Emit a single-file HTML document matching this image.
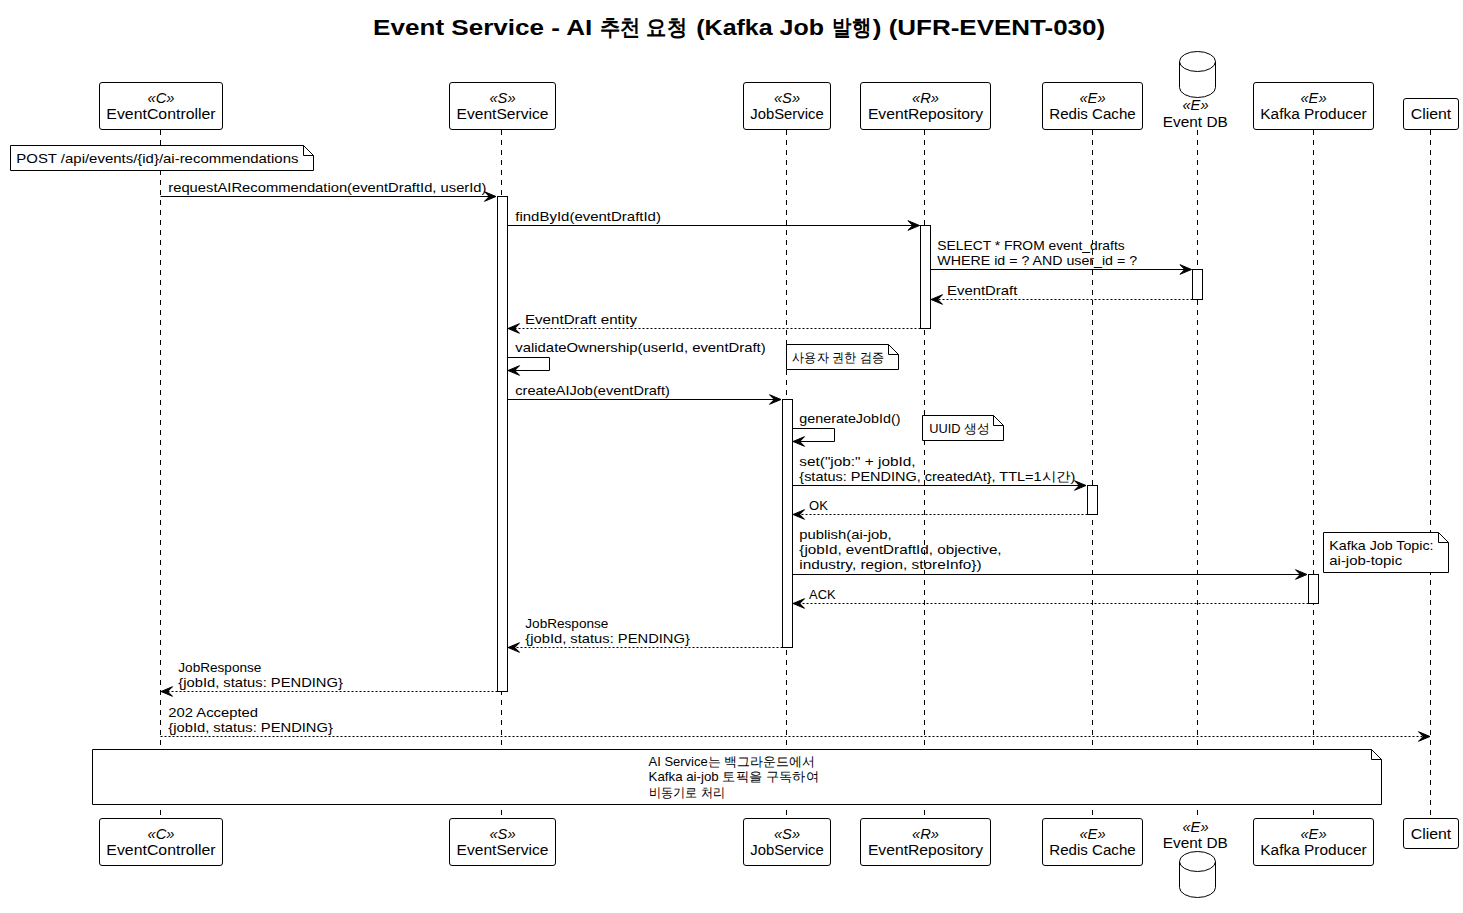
<!DOCTYPE html>
<html><head><meta charset="utf-8"><title>Event Service - AI 추천 요청</title>
<style>
html,body{margin:0;padding:0;background:#fff;}
svg{display:block;}
text{font-family:"Liberation Sans", sans-serif;fill:#000;}
</style></head><body>
<svg width="1463" height="913" viewBox="0 0 1463 913">
<rect x="0" y="0" width="1463" height="913" fill="#fff"/>
<line x1="160.5" y1="130" x2="160.5" y2="818" stroke="#000" stroke-width="1" stroke-dasharray="5,5"/>
<line x1="501.5" y1="130" x2="501.5" y2="818" stroke="#000" stroke-width="1" stroke-dasharray="5,5"/>
<line x1="786.5" y1="130" x2="786.5" y2="818" stroke="#000" stroke-width="1" stroke-dasharray="5,5"/>
<line x1="924.5" y1="130" x2="924.5" y2="818" stroke="#000" stroke-width="1" stroke-dasharray="5,5"/>
<line x1="1092.5" y1="130" x2="1092.5" y2="818" stroke="#000" stroke-width="1" stroke-dasharray="5,5"/>
<line x1="1197.5" y1="130" x2="1197.5" y2="818" stroke="#000" stroke-width="1" stroke-dasharray="5,5"/>
<line x1="1313.5" y1="130" x2="1313.5" y2="818" stroke="#000" stroke-width="1" stroke-dasharray="5,5"/>
<line x1="1430.5" y1="130" x2="1430.5" y2="818" stroke="#000" stroke-width="1" stroke-dasharray="5,5"/>
<rect x="99.5" y="82.5" width="123.0" height="47.0" rx="2.5" ry="2.5" fill="#fff" stroke="#000" stroke-width="1"/>
<rect x="99.5" y="818.5" width="123.0" height="47.0" rx="2.5" ry="2.5" fill="#fff" stroke="#000" stroke-width="1"/>
<rect x="449.5" y="82.5" width="106.0" height="47.0" rx="2.5" ry="2.5" fill="#fff" stroke="#000" stroke-width="1"/>
<rect x="449.5" y="818.5" width="106.0" height="47.0" rx="2.5" ry="2.5" fill="#fff" stroke="#000" stroke-width="1"/>
<rect x="743.5" y="82.5" width="87.0" height="47.0" rx="2.5" ry="2.5" fill="#fff" stroke="#000" stroke-width="1"/>
<rect x="743.5" y="818.5" width="87.0" height="47.0" rx="2.5" ry="2.5" fill="#fff" stroke="#000" stroke-width="1"/>
<rect x="860.5" y="82.5" width="130.0" height="47.0" rx="2.5" ry="2.5" fill="#fff" stroke="#000" stroke-width="1"/>
<rect x="860.5" y="818.5" width="130.0" height="47.0" rx="2.5" ry="2.5" fill="#fff" stroke="#000" stroke-width="1"/>
<rect x="1042.5" y="82.5" width="100.0" height="47.0" rx="2.5" ry="2.5" fill="#fff" stroke="#000" stroke-width="1"/>
<rect x="1042.5" y="818.5" width="100.0" height="47.0" rx="2.5" ry="2.5" fill="#fff" stroke="#000" stroke-width="1"/>
<path d="M1179.5,61.5 A18.0,10 0 0 1 1215.5,61.5 L1215.5,87.5 A18.0,10 0 0 1 1179.5,87.5 Z" fill="#fff" stroke="#000" stroke-width="1"/>
<path d="M1179.5,61.5 A18.0,10 0 0 0 1215.5,61.5" fill="none" stroke="#000" stroke-width="1"/>
<path d="M1179.5,861.5 A18.0,10 0 0 1 1215.5,861.5 L1215.5,887.5 A18.0,10 0 0 1 1179.5,887.5 Z" fill="#fff" stroke="#000" stroke-width="1"/>
<path d="M1179.5,861.5 A18.0,10 0 0 0 1215.5,861.5" fill="none" stroke="#000" stroke-width="1"/>
<rect x="1253.5" y="82.5" width="120.0" height="47.0" rx="2.5" ry="2.5" fill="#fff" stroke="#000" stroke-width="1"/>
<rect x="1253.5" y="818.5" width="120.0" height="47.0" rx="2.5" ry="2.5" fill="#fff" stroke="#000" stroke-width="1"/>
<rect x="1403.5" y="98.5" width="55.0" height="31.0" rx="2.5" ry="2.5" fill="#fff" stroke="#000" stroke-width="1"/>
<rect x="1403.5" y="818.5" width="55.0" height="30.0" rx="2.5" ry="2.5" fill="#fff" stroke="#000" stroke-width="1"/>
<path d="M10.5,145.5 L303.5,145.5 L313.5,155.5 L313.5,170.5 L10.5,170.5 Z" fill="#fff" stroke="#000" stroke-width="1"/>
<path d="M303.5,145.5 L303.5,155.5 L313.5,155.5" fill="none" stroke="#000" stroke-width="1"/>
<line x1="160.5" y1="196.5" x2="496" y2="196.5" stroke="#000" stroke-width="1"/>
<polygon points="496,196.5 484.5,191.7 489.2,196.5 484.5,201.3" fill="#000" stroke="#000" stroke-width="1"/>
<line x1="507.5" y1="225.5" x2="919.5" y2="225.5" stroke="#000" stroke-width="1"/>
<polygon points="919.5,225.5 908.0,220.7 912.7,225.5 908.0,230.3" fill="#000" stroke="#000" stroke-width="1"/>
<line x1="930.5" y1="269.5" x2="1191.5" y2="269.5" stroke="#000" stroke-width="1"/>
<polygon points="1191.5,269.5 1180.0,264.7 1184.7,269.5 1180.0,274.3" fill="#000" stroke="#000" stroke-width="1"/>
<line x1="1192.5" y1="299.5" x2="931" y2="299.5" stroke="#000" stroke-width="1" stroke-dasharray="2,2"/>
<polygon points="931,299.5 942.5,294.7 937.8,299.5 942.5,304.3" fill="#000" stroke="#000" stroke-width="1"/>
<line x1="920.5" y1="328.5" x2="508" y2="328.5" stroke="#000" stroke-width="1" stroke-dasharray="2,2"/>
<polygon points="508,328.5 519.5,323.7 514.8,328.5 519.5,333.3" fill="#000" stroke="#000" stroke-width="1"/>
<path d="M507.5,357.5 L549.5,357.5 L549.5,370.5 L508,370.5" fill="none" stroke="#000" stroke-width="1"/>
<polygon points="508,370.5 519.5,365.7 514.8,370.5 519.5,375.3" fill="#000" stroke="#000" stroke-width="1"/>
<path d="M786.5,344.5 L888.5,344.5 L898.5,354.5 L898.5,369.5 L786.5,369.5 Z" fill="#fff" stroke="#000" stroke-width="1"/>
<path d="M888.5,344.5 L888.5,354.5 L898.5,354.5" fill="none" stroke="#000" stroke-width="1"/>
<line x1="507.5" y1="399.5" x2="781" y2="399.5" stroke="#000" stroke-width="1"/>
<polygon points="781,399.5 769.5,394.7 774.2,399.5 769.5,404.3" fill="#000" stroke="#000" stroke-width="1"/>
<path d="M792.5,428.5 L834.5,428.5 L834.5,441.5 L793,441.5" fill="none" stroke="#000" stroke-width="1"/>
<polygon points="793,441.5 804.5,436.7 799.8,441.5 804.5,446.3" fill="#000" stroke="#000" stroke-width="1"/>
<path d="M922.5,415.5 L993.5,415.5 L1003.5,425.5 L1003.5,440.5 L922.5,440.5 Z" fill="#fff" stroke="#000" stroke-width="1"/>
<path d="M993.5,415.5 L993.5,425.5 L1003.5,425.5" fill="none" stroke="#000" stroke-width="1"/>
<line x1="792.5" y1="485.5" x2="1086" y2="485.5" stroke="#000" stroke-width="1"/>
<polygon points="1086,485.5 1074.5,480.7 1079.2,485.5 1074.5,490.3" fill="#000" stroke="#000" stroke-width="1"/>
<line x1="1087.5" y1="514.5" x2="793" y2="514.5" stroke="#000" stroke-width="1" stroke-dasharray="2,2"/>
<polygon points="793,514.5 804.5,509.7 799.8,514.5 804.5,519.3" fill="#000" stroke="#000" stroke-width="1"/>
<line x1="792.5" y1="574.5" x2="1307" y2="574.5" stroke="#000" stroke-width="1"/>
<polygon points="1307,574.5 1295.5,569.7 1300.2,574.5 1295.5,579.3" fill="#000" stroke="#000" stroke-width="1"/>
<path d="M1323.5,532.5 L1438.5,532.5 L1448.5,542.5 L1448.5,572.5 L1323.5,572.5 Z" fill="#fff" stroke="#000" stroke-width="1"/>
<path d="M1438.5,532.5 L1438.5,542.5 L1448.5,542.5" fill="none" stroke="#000" stroke-width="1"/>
<line x1="1308.5" y1="603.5" x2="793" y2="603.5" stroke="#000" stroke-width="1" stroke-dasharray="2,2"/>
<polygon points="793,603.5 804.5,598.7 799.8,603.5 804.5,608.3" fill="#000" stroke="#000" stroke-width="1"/>
<line x1="782.5" y1="647.5" x2="508" y2="647.5" stroke="#000" stroke-width="1" stroke-dasharray="2,2"/>
<polygon points="508,647.5 519.5,642.7 514.8,647.5 519.5,652.3" fill="#000" stroke="#000" stroke-width="1"/>
<line x1="497.5" y1="691.5" x2="161" y2="691.5" stroke="#000" stroke-width="1" stroke-dasharray="2,2"/>
<polygon points="161,691.5 172.5,686.7 167.8,691.5 172.5,696.3" fill="#000" stroke="#000" stroke-width="1"/>
<line x1="160.5" y1="736.5" x2="1430" y2="736.5" stroke="#000" stroke-width="1" stroke-dasharray="2,2"/>
<polygon points="1430,736.5 1418.5,731.7 1423.2,736.5 1418.5,741.3" fill="#000" stroke="#000" stroke-width="1"/>
<path d="M92.5,749.5 L1371.5,749.5 L1381.5,759.5 L1381.5,804.5 L92.5,804.5 Z" fill="#fff" stroke="#000" stroke-width="1"/>
<path d="M1371.5,749.5 L1371.5,759.5 L1381.5,759.5" fill="none" stroke="#000" stroke-width="1"/>
<rect x="497.5" y="196.5" width="10" height="495.0" fill="#fff" stroke="#000" stroke-width="1"/>
<rect x="920.5" y="225.5" width="10" height="103.0" fill="#fff" stroke="#000" stroke-width="1"/>
<rect x="1192.5" y="269.5" width="10" height="30.0" fill="#fff" stroke="#000" stroke-width="1"/>
<rect x="782.5" y="399.5" width="10" height="248.0" fill="#fff" stroke="#000" stroke-width="1"/>
<rect x="1087.5" y="485.5" width="10" height="29.0" fill="#fff" stroke="#000" stroke-width="1"/>
<rect x="1308.5" y="574.5" width="10" height="29.0" fill="#fff" stroke="#000" stroke-width="1"/>
<text x="161.00" y="102.80" font-size="14" font-style="italic" text-anchor="middle" textLength="27.06" lengthAdjust="spacingAndGlyphs">«C»</text>
<text x="161.00" y="118.80" font-size="14" text-anchor="middle" textLength="109.28" lengthAdjust="spacingAndGlyphs">EventController</text>
<text x="161.00" y="838.80" font-size="14" font-style="italic" text-anchor="middle" textLength="27.06" lengthAdjust="spacingAndGlyphs">«C»</text>
<text x="161.00" y="854.80" font-size="14" text-anchor="middle" textLength="109.28" lengthAdjust="spacingAndGlyphs">EventController</text>
<text x="502.50" y="102.80" font-size="14" font-style="italic" text-anchor="middle" textLength="26.17" lengthAdjust="spacingAndGlyphs">«S»</text>
<text x="502.50" y="118.80" font-size="14" text-anchor="middle" textLength="91.86" lengthAdjust="spacingAndGlyphs">EventService</text>
<text x="502.50" y="838.80" font-size="14" font-style="italic" text-anchor="middle" textLength="26.17" lengthAdjust="spacingAndGlyphs">«S»</text>
<text x="502.50" y="854.80" font-size="14" text-anchor="middle" textLength="91.86" lengthAdjust="spacingAndGlyphs">EventService</text>
<text x="787.00" y="102.80" font-size="14" font-style="italic" text-anchor="middle" textLength="26.17" lengthAdjust="spacingAndGlyphs">«S»</text>
<text x="787.00" y="118.80" font-size="14" text-anchor="middle" textLength="73.33" lengthAdjust="spacingAndGlyphs">JobService</text>
<text x="787.00" y="838.80" font-size="14" font-style="italic" text-anchor="middle" textLength="26.17" lengthAdjust="spacingAndGlyphs">«S»</text>
<text x="787.00" y="854.80" font-size="14" text-anchor="middle" textLength="73.33" lengthAdjust="spacingAndGlyphs">JobService</text>
<text x="925.50" y="102.80" font-size="14" font-style="italic" text-anchor="middle" textLength="27.02" lengthAdjust="spacingAndGlyphs">«R»</text>
<text x="925.50" y="118.80" font-size="14" text-anchor="middle" textLength="115.19" lengthAdjust="spacingAndGlyphs">EventRepository</text>
<text x="925.50" y="838.80" font-size="14" font-style="italic" text-anchor="middle" textLength="27.02" lengthAdjust="spacingAndGlyphs">«R»</text>
<text x="925.50" y="854.80" font-size="14" text-anchor="middle" textLength="115.19" lengthAdjust="spacingAndGlyphs">EventRepository</text>
<text x="1092.50" y="102.80" font-size="14" font-style="italic" text-anchor="middle" textLength="26.14" lengthAdjust="spacingAndGlyphs">«E»</text>
<text x="1092.50" y="118.80" font-size="14" text-anchor="middle" textLength="86.41" lengthAdjust="spacingAndGlyphs">Redis Cache</text>
<text x="1092.50" y="838.80" font-size="14" font-style="italic" text-anchor="middle" textLength="26.14" lengthAdjust="spacingAndGlyphs">«E»</text>
<text x="1092.50" y="854.80" font-size="14" text-anchor="middle" textLength="86.41" lengthAdjust="spacingAndGlyphs">Redis Cache</text>
<text x="1195.50" y="110.40" font-size="14" font-style="italic" text-anchor="middle" textLength="26.14" lengthAdjust="spacingAndGlyphs">«E»</text>
<text x="1195.30" y="126.70" font-size="14" text-anchor="middle" textLength="64.95" lengthAdjust="spacingAndGlyphs">Event DB</text>
<text x="1195.50" y="831.70" font-size="14" font-style="italic" text-anchor="middle" textLength="26.14" lengthAdjust="spacingAndGlyphs">«E»</text>
<text x="1195.30" y="847.50" font-size="14" text-anchor="middle" textLength="64.95" lengthAdjust="spacingAndGlyphs">Event DB</text>
<text x="1313.50" y="102.80" font-size="14" font-style="italic" text-anchor="middle" textLength="26.14" lengthAdjust="spacingAndGlyphs">«E»</text>
<text x="1313.50" y="118.80" font-size="14" text-anchor="middle" textLength="106.42" lengthAdjust="spacingAndGlyphs">Kafka Producer</text>
<text x="1313.50" y="838.80" font-size="14" font-style="italic" text-anchor="middle" textLength="26.14" lengthAdjust="spacingAndGlyphs">«E»</text>
<text x="1313.50" y="854.80" font-size="14" text-anchor="middle" textLength="106.42" lengthAdjust="spacingAndGlyphs">Kafka Producer</text>
<text x="1431.00" y="118.60" font-size="14" text-anchor="middle" textLength="40.53" lengthAdjust="spacingAndGlyphs">Client</text>
<text x="1431.00" y="838.50" font-size="14" text-anchor="middle" textLength="40.53" lengthAdjust="spacingAndGlyphs">Client</text>
<text x="373.10" y="35.20" font-size="22" font-weight="bold" textLength="219.25" lengthAdjust="spacingAndGlyphs">Event Service - AI</text>
<text x="600.20" y="35.20" font-size="22" font-weight="bold" textLength="86.80" lengthAdjust="spacingAndGlyphs">추천 요청</text>
<text x="696.30" y="35.20" font-size="22" font-weight="bold" textLength="127.70" lengthAdjust="spacingAndGlyphs">(Kafka Job</text>
<text x="832.40" y="35.20" font-size="22" font-weight="bold" textLength="38.80" lengthAdjust="spacingAndGlyphs">발행</text>
<text x="872.80" y="35.20" font-size="22" font-weight="bold" textLength="232.34" lengthAdjust="spacingAndGlyphs">) (UFR-EVENT-030)</text>
<text x="16.30" y="162.70" font-size="13" textLength="282.12" lengthAdjust="spacingAndGlyphs">POST /api/events/{id}/ai-recommendations</text>
<text x="168.30" y="191.50" font-size="13" textLength="318.20" lengthAdjust="spacingAndGlyphs">requestAIRecommendation(eventDraftId, userId)</text>
<text x="515.30" y="220.80" font-size="13" textLength="145.64" lengthAdjust="spacingAndGlyphs">findById(eventDraftId)</text>
<text x="937.30" y="249.80" font-size="13" textLength="187.34" lengthAdjust="spacingAndGlyphs">SELECT * FROM event_drafts</text>
<text x="937.30" y="264.93" font-size="13" textLength="199.81" lengthAdjust="spacingAndGlyphs">WHERE id = ? AND user_id = ?</text>
<text x="947.10" y="294.80" font-size="13" textLength="70.25" lengthAdjust="spacingAndGlyphs">EventDraft</text>
<text x="524.90" y="323.70" font-size="13" textLength="112.11" lengthAdjust="spacingAndGlyphs">EventDraft entity</text>
<text x="515.30" y="352.10" font-size="13" textLength="250.39" lengthAdjust="spacingAndGlyphs">validateOwnership(userId, eventDraft)</text>
<text x="792.30" y="362.00" font-size="13" textLength="91.50" lengthAdjust="spacingAndGlyphs">사용자 권한 검증</text>
<text x="515.30" y="394.80" font-size="13" textLength="154.48" lengthAdjust="spacingAndGlyphs">createAIJob(eventDraft)</text>
<text x="799.30" y="423.10" font-size="13" textLength="101.17" lengthAdjust="spacingAndGlyphs">generateJobId()</text>
<text x="929.30" y="433.10" font-size="13" textLength="60.50" lengthAdjust="spacingAndGlyphs">UUID 생성</text>
<text x="799.30" y="466.30" font-size="13" textLength="116.30" lengthAdjust="spacingAndGlyphs">set(&quot;job:&quot; + jobId,</text>
<text x="799.30" y="481.43" font-size="13" textLength="276.00" lengthAdjust="spacingAndGlyphs">{status: PENDING, createdAt}, TTL=1시간)</text>
<text x="809.10" y="509.80" font-size="13" textLength="18.77" lengthAdjust="spacingAndGlyphs">OK</text>
<text x="799.30" y="539.10" font-size="13" textLength="92.28" lengthAdjust="spacingAndGlyphs">publish(ai-job,</text>
<text x="799.30" y="554.23" font-size="13" textLength="202.31" lengthAdjust="spacingAndGlyphs">{jobId, eventDraftId, objective,</text>
<text x="799.30" y="569.36" font-size="13" textLength="182.30" lengthAdjust="spacingAndGlyphs">industry, region, storeInfo})</text>
<text x="1329.30" y="549.80" font-size="13" textLength="104.16" lengthAdjust="spacingAndGlyphs">Kafka Job Topic:</text>
<text x="1329.30" y="564.93" font-size="13" textLength="72.84" lengthAdjust="spacingAndGlyphs">ai-job-topic</text>
<text x="809.10" y="598.80" font-size="13" textLength="26.50" lengthAdjust="spacingAndGlyphs">ACK</text>
<text x="525.30" y="627.70" font-size="13" textLength="83.06" lengthAdjust="spacingAndGlyphs">JobResponse</text>
<text x="525.30" y="642.83" font-size="13" textLength="164.59" lengthAdjust="spacingAndGlyphs">{jobId, status: PENDING}</text>
<text x="178.30" y="671.70" font-size="13" textLength="83.06" lengthAdjust="spacingAndGlyphs">JobResponse</text>
<text x="178.30" y="686.83" font-size="13" textLength="164.59" lengthAdjust="spacingAndGlyphs">{jobId, status: PENDING}</text>
<text x="168.30" y="716.70" font-size="13" textLength="89.73" lengthAdjust="spacingAndGlyphs">202 Accepted</text>
<text x="168.30" y="731.83" font-size="13" textLength="164.59" lengthAdjust="spacingAndGlyphs">{jobId, status: PENDING}</text>
<text x="648.60" y="766.30" font-size="13" textLength="166.30" lengthAdjust="spacingAndGlyphs">AI Service는 백그라운드에서</text>
<text x="648.60" y="781.43" font-size="13" textLength="170.30" lengthAdjust="spacingAndGlyphs">Kafka ai-job 토픽을 구독하여</text>
<text x="648.60" y="796.56" font-size="13" textLength="76.30" lengthAdjust="spacingAndGlyphs">비동기로 처리</text>
</svg>
</body></html>
